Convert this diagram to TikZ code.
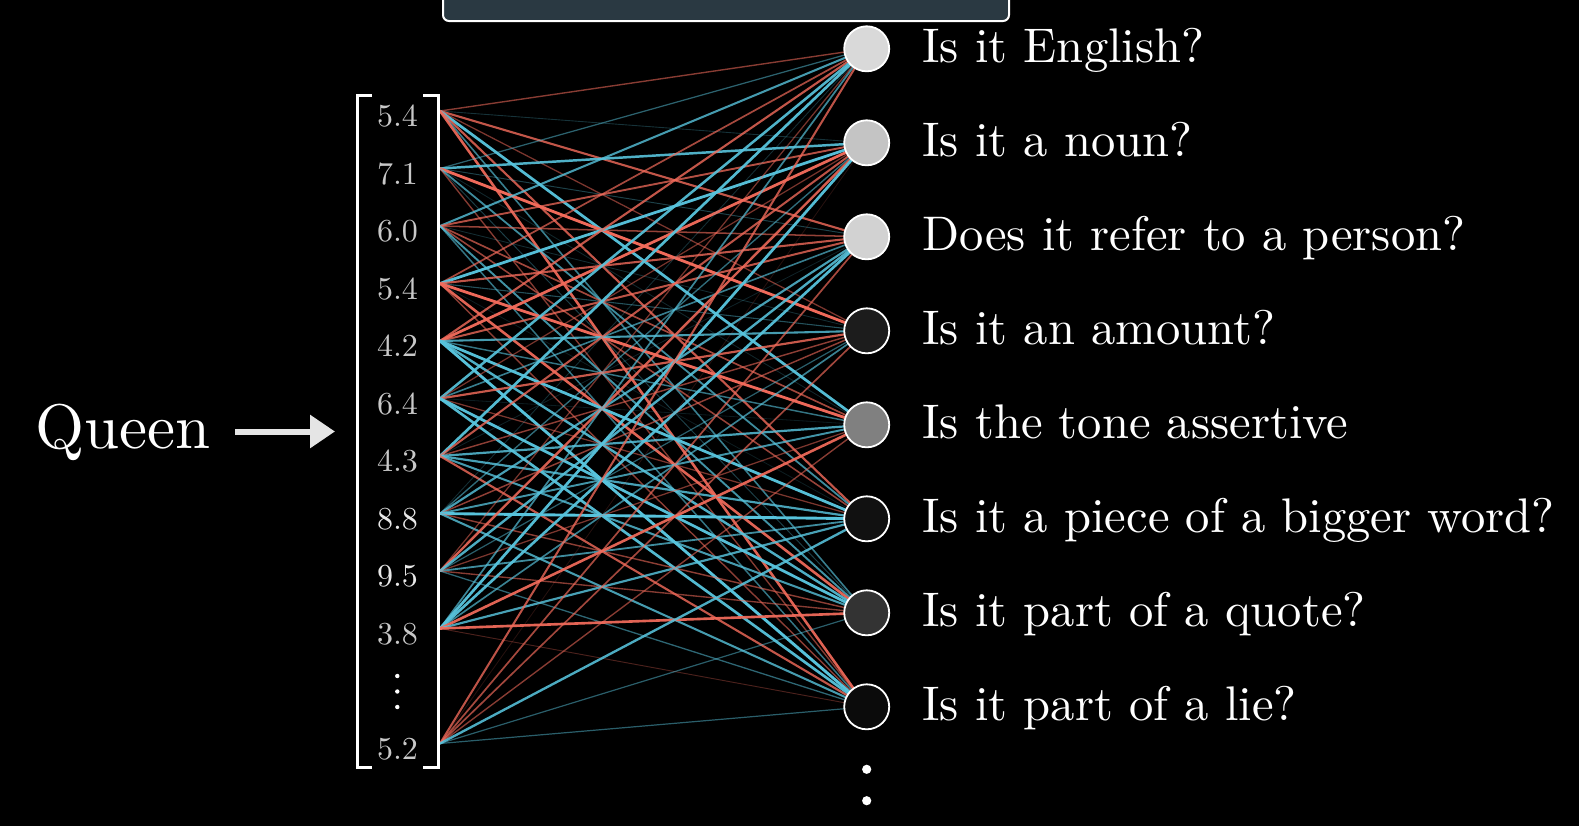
\documentclass[tikz,border=0pt]{standalone}
\usetikzlibrary{arrows.meta}
\definecolor{qblue}{HTML}{58C4DD}
\definecolor{qred}{HTML}{F26B5B}
\definecolor{slate}{HTML}{2A3942}
\definecolor{numgrey}{HTML}{C8C8C8}
\definecolor{numlight}{HTML}{E8E8E8}
\font\qfont="[lmroman10-regular]:+tlig;" at 24.3pt
\font\nfont="[lmroman10-regular]:+tlig;" at 16pt
\font\wfont="[lmroman10-regular]:+tlig;" at 31.5pt
\begin{document}
\begin{tikzpicture}[x=0.5pt,y=-0.5pt,
  neuron/.style={circle, draw=white, line width=0.9pt, minimum size=22.5pt, inner sep=0pt},
  question/.style={anchor=base west, inner sep=0pt, text=white, font=\qfont},
  entry/.style={anchor=base, inner sep=0pt, font=\nfont},
  bracketline/.style={draw=white, line width=1.5pt},
  weight/.style={line cap=round}
]
\fill[black] (0,0) rectangle (1579,826);
\useasboundingbox (0,0) rectangle (1579,826);

% top panel
\draw[fill=slate, draw=white, line width=1pt, rounded corners=3pt] (443,-30) rectangle (1009,21);

% vector entries
\foreach \k/\t/\c in {0/5.4/numgrey,1/7.1/numgrey,2/6.0/numgrey,3/5.4/numgrey,4/4.2/numgrey,5/6.4/numgrey,6/4.3/numgrey,7/8.8/numlight,8/9.5/numlight,9/3.8/numgrey,11/5.2/numgrey}{
  \node[entry, text=\c] (n\k) at (397.5,{126.5+57.5*\k}) {\t};
  \coordinate (v\k) at (440,{111+57.5*\k});
}

% neurons positions
\foreach \j in {1,...,8}{
  \coordinate (c\j) at (866.7,{48.8+94*(\j-1)});
}

% weights
\foreach \i in {0,1,2,3,4,5,6,7,8,9,11}{
  \foreach \j in {1,...,8}{
    \pgfmathsetmacro\ra{frac(abs(sin(\i*127.1+\j*311.7+13))*4375.5453)}
    \pgfmathsetmacro\rb{frac(abs(sin(\i*269.5+\j*183.3+71))*3758.5453)}
    \pgfmathsetmacro\op{0.08+0.92*sqrt(\ra)}
    \pgfmathsetmacro\lw{0.4+1.05*\ra}
    \ifdim\rb pt>0.5pt \def\col{qblue}\else\def\col{qred}\fi
    \draw[weight, draw=\col, draw opacity=\op, line width=\lw pt] (v\i) -- (c\j);
  }
}

% neurons
\foreach \j/\f in {1/D9D9D9,2/C4C4C4,3/D2D2D2,4/1C1C1C,5/808080,6/111111,7/333333,8/0B0B0B}{
  \definecolor{nf\j}{HTML}{\f}
  \node[neuron, fill=nf\j] (q\j) at (c\j) {};
}

% questions
\node[question] (t1) at (922,{48.8+13.5}) {Is it English?};
\node[question] (t2) at (922,{142.8+13.5}) {Is it a noun?};
\node[question] (t3) at (922,{236.8+13.5}) {Does it refer to a person?};
\node[question] (t4) at (922,{330.8+13.5}) {Is it an amount?};
\node[question] (t5) at (922,{424.8+13.5}) {Is the tone assertive};
\node[question] (t6) at (922,{518.8+13.5}) {Is it a piece of a bigger word?};
\node[question] (t7) at (922,{612.8+13.5}) {Is it part of a quote?};
\node[question] (t8) at (922,{706.8+13.5}) {Is it part of a lie?};

% dots under neurons
\fill[white] (866.7,769.3) circle (2.3pt);
\fill[white] (866.7,800.7) circle (2.3pt);

% bracket
\draw[bracketline] (372,95) -- (357,95) -- (357,767) -- (372,767);
\draw[bracketline] (423,95) -- (438,95) -- (438,767) -- (423,767);
\fill[white] (397.3,676) circle (1.1pt);
\fill[white] (397.3,691.5) circle (1.1pt);
\fill[white] (397.3,707) circle (1.1pt);

% Queen and arrow
\node[anchor=base west, inner sep=0pt, text=white, font=\wfont] (queen) at (35,448) {Queen};
\coordinate (a0) at (235,431.5);
\coordinate (a1) at (335,431.5);
\draw[draw=white!90!black, line width=3pt, -{Triangle[length=12.5pt,width=16pt]}] (a0) -- (a1);
\end{tikzpicture}
\end{document}
